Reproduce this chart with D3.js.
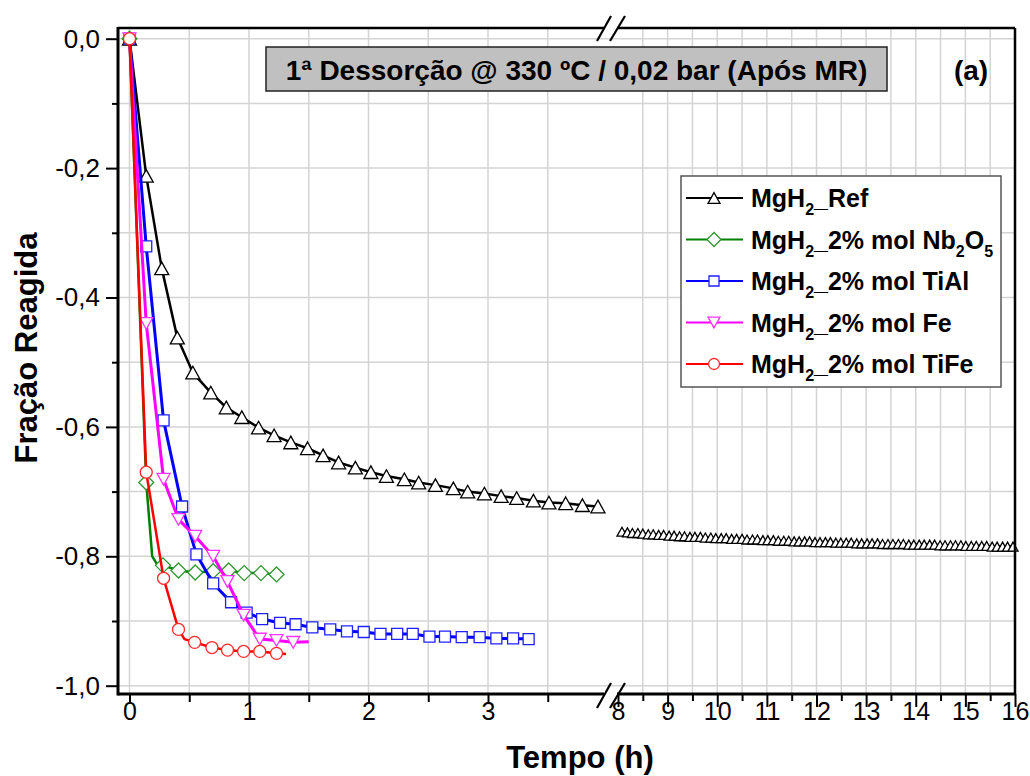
<!DOCTYPE html>
<html>
<head>
<meta charset="utf-8">
<script src="https://cdn.jsdelivr.net/npm/d3@7/dist/d3.min.js"></script>
<style>
    body { margin: 0; background: #fff; }
    svg { display: block; }
    text { font-family: "Liberation Sans", Arial, sans-serif; fill: #000; }
</style>
</head>
<body>
<svg id="chart"></svg>
<script>
// ticks
var xTicksLeft = [0, 1, 2, 3];
var xMinorLeft = [0.5, 1.5, 2.5, 3.5];
var xTicksRight = [8, 9, 10, 11, 12, 13, 14, 15, 16];
var xMinorRight = [8.5, 9.5, 10.5, 11.5, 12.5, 13.5, 14.5, 15.5];
var yTicks = [0, -0.2, -0.4, -0.6, -0.8, -1.0];
var yMinor = [-0.1, -0.3, -0.5, -0.7, -0.9];

// MgH2_Ref, before the axis break
var refTimeA = [0, 0.14, 0.27, 0.40, 0.53, 0.68, 0.81, 0.94, 1.08, 1.21, 1.35, 1.49, 1.62, 1.75, 1.89,
    2.02, 2.15, 2.30, 2.42, 2.56, 2.71, 2.83, 2.97, 3.11, 3.24, 3.38, 3.51, 3.65, 3.79, 3.92];
var refValueA = [0, -0.212, -0.355, -0.462, -0.516, -0.547, -0.570, -0.585, -0.601, -0.613, -0.624, -0.633, -0.644, -0.655, -0.663,
    -0.670, -0.676, -0.681, -0.686, -0.690, -0.695, -0.700, -0.703, -0.707, -0.710, -0.714, -0.717, -0.718, -0.721, -0.723];

// MgH2_Ref, after the axis break
var refTimeB = [8.08, 8.19, 8.29, 8.40, 8.50, 8.61, 8.71, 8.82, 8.92,
    9.03, 9.13, 9.24, 9.34, 9.45, 9.55, 9.66, 9.76, 9.87, 9.97,
    10.08, 10.18, 10.29, 10.39, 10.50, 10.60, 10.71, 10.81, 10.92,
    11.02, 11.13, 11.23, 11.34, 11.44, 11.55, 11.65, 11.76, 11.86, 11.97,
    12.07, 12.18, 12.28, 12.39, 12.49, 12.60, 12.70, 12.81, 12.91,
    13.02, 13.12, 13.23, 13.33, 13.44, 13.54, 13.65, 13.75, 13.86, 13.96,
    14.07, 14.17, 14.28, 14.38, 14.49, 14.59, 14.70, 14.80, 14.91,
    15.01, 15.12, 15.22, 15.33, 15.43, 15.54, 15.64, 15.75, 15.85, 15.96];
var refValueB = [-0.762, -0.763, -0.764, -0.764, -0.765, -0.766, -0.766, -0.767, -0.767,
    -0.768, -0.768, -0.769, -0.769, -0.770, -0.770, -0.770, -0.771, -0.771, -0.772,
    -0.772, -0.772, -0.773, -0.773, -0.773, -0.774, -0.774, -0.774, -0.775,
    -0.775, -0.775, -0.776, -0.776, -0.776, -0.777, -0.777, -0.777, -0.777, -0.778,
    -0.778, -0.778, -0.778, -0.779, -0.779, -0.779, -0.779, -0.780, -0.780,
    -0.780, -0.780, -0.780, -0.781, -0.781, -0.781, -0.781, -0.781, -0.782, -0.782,
    -0.782, -0.782, -0.782, -0.782, -0.783, -0.783, -0.783, -0.783, -0.783,
    -0.784, -0.784, -0.784, -0.784, -0.784, -0.785, -0.785, -0.785, -0.785, -0.785];

// MgH2_2% mol Nb2O5
var nbTime = [0, 0.14, 0.28, 0.41, 0.55, 0.70, 0.83, 0.96, 1.10, 1.23];
var nbValue = [0, -0.686, -0.814, -0.822, -0.825, -0.823, -0.822, -0.826, -0.826, -0.828];
var nbLineTime = [0.19, 0.23];           // points on the line with no symbol
var nbLineValue = [-0.800, -0.812];

// MgH2_2% mol TiAl
var tialTime = [0, 0.14, 0.285, 0.44, 0.56, 0.70, 0.85, 0.98, 1.11, 1.26, 1.39, 1.53, 1.68, 1.82, 1.96,
    2.10, 2.24, 2.37, 2.51, 2.64, 2.78, 2.93, 3.07, 3.21, 3.34];
var tialValue = [0, -0.321, -0.590, -0.723, -0.797, -0.842, -0.871, -0.887, -0.897, -0.903, -0.905, -0.910, -0.913, -0.916, -0.917,
    -0.920, -0.920, -0.920, -0.924, -0.924, -0.925, -0.925, -0.927, -0.927, -0.928];

// MgH2_2% mol Fe
var feTime = [0, 0.14, 0.285, 0.41, 0.55, 0.70, 0.82, 0.955, 1.09, 1.23, 1.37];
var feValue = [0, -0.440, -0.681, -0.743, -0.769, -0.800, -0.839, -0.891, -0.928, -0.930, -0.933];
var feLineTime = [1.50];
var feLineValue = [-0.932];

// MgH2_2% mol TiFe
var tifeTime = [0, 0.14, 0.285, 0.41, 0.545, 0.69, 0.82, 0.955, 1.09, 1.23];
var tifeValue = [0, -0.670, -0.834, -0.913, -0.933, -0.941, -0.945, -0.947, -0.947, -0.950];
var tifeLineTime = [0.46, 1.31];
var tifeLineValue = [-0.928, -0.951];

// legend labels, [text, isSubscript]
var legendLabels = [
    [["MgH", 0], ["2", 1], ["_Ref", 0]],
    [["MgH", 0], ["2", 1], ["_2% mol Nb", 0], ["2", 1], ["O", 0], ["5", 1]],
    [["MgH", 0], ["2", 1], ["_2% mol TiAl", 0]],
    [["MgH", 0], ["2", 1], ["_2% mol Fe", 0]],
    [["MgH", 0], ["2", 1], ["_2% mol TiFe", 0]]
];

var width = 1030, height = 776;
var plot = {left: 118, right: 1015, top: 28, bottom: 694, breakL: 604, breakR: 617};

var xL = d3.scaleLinear().domain([0, 3]).range([129.5, 488]);
var xR = d3.scaleLinear().domain([8, 16]).range([618, 1015]);
var y = d3.scaleLinear().domain([0, -1]).range([38.7, 685.7]);

var fmt = d3.formatLocale({decimal: ",", thousands: ".", grouping: [3], currency: ["", ""], minus: "-"}).format(".1f");

function pts(t, v) {
    return t.map(function(d, i) { return {t: d, v: v[i]}; });
}
function linePts(t, v, et, ev) {
    var a = pts(t, v).concat(pts(et || [], ev || []));
    a.sort(function(p, q) { return p.t - q.t; });
    return a;
}

var series = [
    {color: "#000000", mark: "#000000", symbol: "triUp", size: 14, lw: 2.5, segs: [
        {x: xL, line: pts(refTimeA, refValueA), marks: pts(refTimeA, refValueA)},
        {x: xR, line: pts(refTimeB, refValueB), marks: pts(refTimeB, refValueB), size: 10}]},
    {color: "#008000", mark: "#2f962f", symbol: "diamond", size: 15, lw: 2.5, segs: [
        {x: xL, line: linePts(nbTime, nbValue, nbLineTime, nbLineValue), marks: pts(nbTime, nbValue)}]},
    {color: "#0000ff", mark: "#1f1fff", symbol: "square", size: 11, lw: 3, segs: [
        {x: xL, line: pts(tialTime, tialValue), marks: pts(tialTime, tialValue)}]},
    {color: "#ff00ff", mark: "#ff33ff", symbol: "triDown", size: 13, lw: 3, segs: [
        {x: xL, line: linePts(feTime, feValue, feLineTime, feLineValue), marks: pts(feTime, feValue)}]},
    {color: "#ff0000", mark: "#ff2a2a", symbol: "circle", size: 12, lw: 2.5, segs: [
        {x: xL, line: linePts(tifeTime, tifeValue, tifeLineTime, tifeLineValue), marks: pts(tifeTime, tifeValue)}]}
];

function symbolPath(type, s) {
    var h = s / 2;
    if (type === "triUp") return "M0," + (-h * 0.9) + "L" + h + "," + (h * 0.9) + "L" + (-h) + "," + (h * 0.9) + "Z";
    if (type === "triDown") return "M0," + (h * 0.9) + "L" + h + "," + (-h * 0.9) + "L" + (-h) + "," + (-h * 0.9) + "Z";
    if (type === "square") return "M" + (-h) + "," + (-h) + "h" + s + "v" + s + "h" + (-s) + "Z";
    if (type === "diamond") return "M0," + (-h) + "L" + h + ",0L0," + h + "L" + (-h) + ",0Z";
    return "M" + h + ",0A" + h + "," + h + " 0 1,1 " + (-h) + ",0A" + h + "," + h + " 0 1,1 " + h + ",0Z";
}

var svg = d3.select("#chart")
    .attr("width", width)
    .attr("height", height);

// grid
var grid = svg.append("g").attr("class", "grid")
    .attr("stroke", "#d4d4d4")
    .attr("stroke-width", 1.5);

grid.selectAll(".gy")
    .data(yTicks.concat(yMinor))
    .enter().append("line")
    .attr("x1", plot.left).attr("x2", plot.right)
    .attr("y1", function(d) { return y(d); })
    .attr("y2", function(d) { return y(d); });

grid.selectAll(".gxl")
    .data(xTicksLeft.concat(xMinorLeft))
    .enter().append("line")
    .attr("x1", function(d) { return xL(d); })
    .attr("x2", function(d) { return xL(d); })
    .attr("y1", plot.top).attr("y2", plot.bottom);

grid.selectAll(".gxr")
    .data(xMinorRight.concat(xTicksRight.filter(function(d) { return d > 8 && d < 16; })))
    .enter().append("line")
    .attr("x1", function(d) { return xR(d); })
    .attr("x2", function(d) { return xR(d); })
    .attr("y1", plot.top).attr("y2", plot.bottom);

// title box
svg.append("rect")
    .attr("x", 266).attr("y", 47)
    .attr("width", 621).attr("height", 44)
    .attr("fill", "#c0c0c0")
    .attr("stroke", "#222")
    .attr("stroke-width", 1.5);

svg.append("text")
    .attr("x", 576.5).attr("y", 80)
    .attr("text-anchor", "middle")
    .style("font-size", "28px")
    .style("font-weight", "bold")
    .text("1ª Dessorção @ 330 ºC / 0,02 bar (Após MR)");

svg.append("text")
    .attr("x", 971).attr("y", 80)
    .attr("text-anchor", "middle")
    .style("font-size", "28px")
    .style("font-weight", "bold")
    .text("(a)");

// series
var line = d3.line();

series.forEach(function(s) {
    var g = svg.append("g");
    s.segs.forEach(function(seg) {
        line.x(function(d) { return seg.x(d.t); })
            .y(function(d) { return y(d.v); });

        g.append("path")
            .attr("d", line(seg.line))
            .attr("fill", "none")
            .attr("stroke", s.color)
            .attr("stroke-width", s.lw)
            .attr("stroke-linejoin", "round");

        g.selectAll(null)
            .data(seg.marks)
            .enter()
            .append("path")
            .attr("transform", function(d) { return "translate(" + seg.x(d.t) + "," + y(d.v) + ")"; })
            .attr("d", symbolPath(s.symbol, seg.size || s.size))
            .attr("fill", "#fff")
            .attr("stroke", s.mark)
            .attr("stroke-width", 1.3);
    });
});

// frame
var frame = svg.append("g").attr("stroke", "#000").attr("fill", "none");
frame.append("line").attr("x1", plot.left).attr("x2", plot.left)
    .attr("y1", plot.top - 1).attr("y2", plot.bottom + 1.5).attr("stroke-width", 3);
frame.append("line").attr("x1", plot.left).attr("x2", plot.breakL)
    .attr("y1", plot.bottom).attr("y2", plot.bottom).attr("stroke-width", 3);
frame.append("line").attr("x1", plot.breakR).attr("x2", plot.right + 1)
    .attr("y1", plot.bottom).attr("y2", plot.bottom).attr("stroke-width", 3);
frame.append("line").attr("x1", plot.left).attr("x2", plot.breakL)
    .attr("y1", plot.top).attr("y2", plot.top).attr("stroke-width", 2.5);
frame.append("line").attr("x1", plot.breakR).attr("x2", plot.right)
    .attr("y1", plot.top).attr("y2", plot.top).attr("stroke-width", 2.5);
frame.append("line").attr("x1", plot.right).attr("x2", plot.right)
    .attr("y1", plot.top).attr("y2", plot.bottom).attr("stroke-width", 2.5);

// break marks
[[597, 708, 611, 683], [610, 708, 625, 683], [597, 41, 611, 16], [610, 41, 625, 16]].forEach(function(b) {
    frame.append("line")
        .attr("x1", b[0]).attr("y1", b[1])
        .attr("x2", b[2]).attr("y2", b[3])
        .attr("stroke-width", 2.2);
});

// axes
function styleAxis(g, size) {
    g.select(".domain").remove();
    g.selectAll(".tick line").attr("stroke", "#000").attr("stroke-width", 2);
    g.selectAll(".tick text")
        .attr("fill", "#000")
        .style("font-family", "'Liberation Sans', Arial, sans-serif")
        .style("font-size", size);
}

svg.append("g")
    .attr("transform", "translate(" + plot.left + ",0)")
    .call(d3.axisLeft(y).tickValues(yTicks).tickSize(12).tickPadding(6).tickFormat(fmt))
    .call(styleAxis, "26px");

svg.append("g")
    .attr("transform", "translate(" + plot.left + ",0)")
    .call(d3.axisLeft(y).tickValues(yMinor).tickSize(6).tickFormat(""))
    .call(styleAxis, "26px");

svg.append("g")
    .attr("transform", "translate(0," + plot.bottom + ")")
    .call(d3.axisBottom(xL).tickValues(xTicksLeft.concat(xMinorLeft)).tickSize(8)
        .tickFormat(function(d) { return xTicksLeft.indexOf(d) >= 0 ? d : ""; }))
    .call(styleAxis, "25px")
    .selectAll(".tick text").attr("y", 8);

svg.append("g")
    .attr("transform", "translate(0," + plot.bottom + ")")
    .call(d3.axisBottom(xR).tickValues(xTicksRight).tickSize(13).tickFormat(d3.format("d")))
    .call(styleAxis, "25px")
    .selectAll(".tick text").attr("y", 8);

svg.append("g")
    .attr("transform", "translate(0," + plot.bottom + ")")
    .call(d3.axisBottom(xR).tickValues(xMinorRight).tickSize(7).tickFormat(""))
    .call(styleAxis, "25px");

// axis titles
svg.append("text")
    .attr("x", 580).attr("y", 768)
    .attr("text-anchor", "middle")
    .style("font-size", "31px")
    .style("font-weight", "bold")
    .text("Tempo (h)");

svg.append("text")
    .attr("transform", "translate(37,348) rotate(-90)")
    .attr("text-anchor", "middle")
    .style("font-size", "31px")
    .style("font-weight", "bold")
    .text("Fração Reagida");

// legend
var legend = svg.append("g");
legend.append("rect")
    .attr("x", 681).attr("y", 176)
    .attr("width", 320).attr("height", 211)
    .attr("fill", "#fff")
    .attr("stroke", "#555")
    .attr("stroke-width", 1.5);

series.forEach(function(s, i) {
    var ly = 198 + i * 41.5;
    legend.append("line")
        .attr("x1", 686).attr("x2", 743)
        .attr("y1", ly).attr("y2", ly)
        .attr("stroke", s.color)
        .attr("stroke-width", 2.2);
    legend.append("path")
        .attr("transform", "translate(714," + ly + ")")
        .attr("d", symbolPath(s.symbol, s.symbol === "triUp" ? 12 : s.size - 1))
        .attr("fill", "#fff")
        .attr("stroke", s.mark)
        .attr("stroke-width", 1.3);

    var t = legend.append("text")
        .attr("x", 751).attr("y", ly + 9)
        .style("font-size", "25px")
        .style("font-weight", "bold");
    var shift = 0;
    legendLabels[i].forEach(function(p) {
        var dy = p[1] ? 8 - shift : -shift;
        shift = p[1] ? 8 : 0;
        t.append("tspan")
            .attr("dy", dy)
            .style("font-size", p[1] ? "16px" : "25px")
            .text(p[0]);
    });
});
</script>
</body>
</html>
